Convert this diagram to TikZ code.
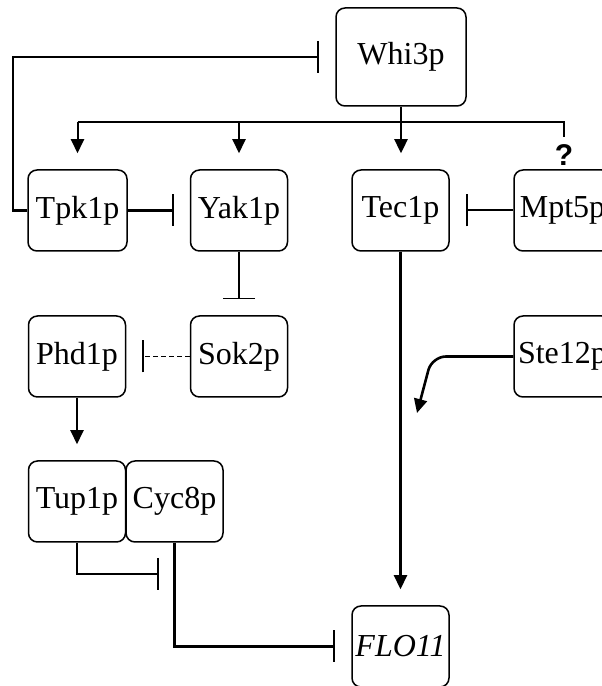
\documentclass[tikz,border=0pt]{standalone}
\usepackage{fontspec}
\setmainfont{Liberation Serif}
\newfontfamily\qfont{Liberation Sans}
\usetikzlibrary{arrows.meta, math}
\tikzset{
prot/.style={draw, rounded corners=9pt, line width=1.5pt, minimum width=97pt, minimum height=81pt, inner sep=0pt, font=\fontsize{32}{38}\selectfont},
act/.style={-{Triangle[width=13pt,length=14pt]}, shorten >=16pt},
inh/.style={-{Bar[width=32pt]}, shorten >=16pt},
}

\begin{document}
\begin{tikzpicture}[x=1pt,y=1pt]
\tikzmath{
\cA=77.5;
\cB=239;
\cC=400.5;
\cD=562.5;
\rA=475.5;
\rB=329.5;
\rC=184.5;
\rD=39.5;
\bus=564;
}
\useasboundingbox (0,0) rectangle (602,686);
\clip (0,0) rectangle (602,686);

%The proteins:
\node[prot, minimum width=130pt, minimum height=98pt] (Whi3p) at (401,629) {Whi3p};
\node[prot, minimum width=99pt] (Tpk1p) at (\cA,\rA) {Tpk1p};
\node[prot] (Yak1p) at (\cB,\rA) {Yak1p};
\node[prot] (Tec1p) at (\cC,\rA) {Tec1p};
\node[prot] (Mpt5p) at (\cD,\rA) {Mpt5p};
\node[prot] (Phd1p) at (77,\rB) {Phd1p};
\node[prot] (Sok2p) at (\cB,\rB) {Sok2p};
\node[prot] (Ste12p) at (\cD,\rB) {Ste12p};
\node[prot] (Tup1p) at (77,\rC) {Tup1p};
\node[prot] (Cyc8p) at (174.5,\rC) {Cyc8p};
\node[prot] (FLO11) at (\cC,\rD) {\itshape FLO11};
\node[font=\qfont\bfseries\fontsize{30}{34}\selectfont] (q) at (564,531) {?};

%Whi3p and its targets:
\coordinate (b1) at (\cA,\bus);
\coordinate (b2) at (\cB,\bus);
\coordinate (b4) at (564,\bus);
\coordinate (qend) at (564,549);
\draw[line width=1.6pt] (b1) -- (b4) -- (qend);
\draw[act, line width=2pt] (b1) -- (Tpk1p.north);
\draw[act, line width=2pt] (b2) -- (Yak1p.north);
\draw[act, line width=2.4pt] (Whi3p.south) -- (Whi3p.south |- Tec1p.north);

%Inhibitions:
\draw[inh, line width=2.2pt] (Tpk1p.west) -- (13,\rA) |- (Whi3p.west);
\draw[inh, line width=2.2pt] (Tpk1p) -- (Yak1p);
\draw[inh, line width=2pt] (Mpt5p) -- (Tec1p);
\draw[inh, line width=1.6pt] (Yak1p) -- (Sok2p);
\draw[inh, line width=1.8pt, dash pattern=on 5pt off 3pt] (Sok2p) -- (Phd1p);
\coordinate (tc) at (Cyc8p.south |- 0,112);
\draw[inh, line width=1.6pt] (Tup1p.south) |- (tc);
\draw[inh, line width=2.6pt] (Cyc8p.south) |- (FLO11.west);

%Activations:
\draw[act, line width=2pt] (Phd1p) -- (Tup1p);
\draw[act, line width=2.2pt] (Tec1p) -- (FLO11);
\coordinate (s1) at (417,273);
\draw[-{Triangle[width=13pt,length=14pt]}, line width=2.6pt, rounded corners=14pt] (Ste12p.west) -- (432,\rB) -- (s1);

\end{tikzpicture}
\end{document}
